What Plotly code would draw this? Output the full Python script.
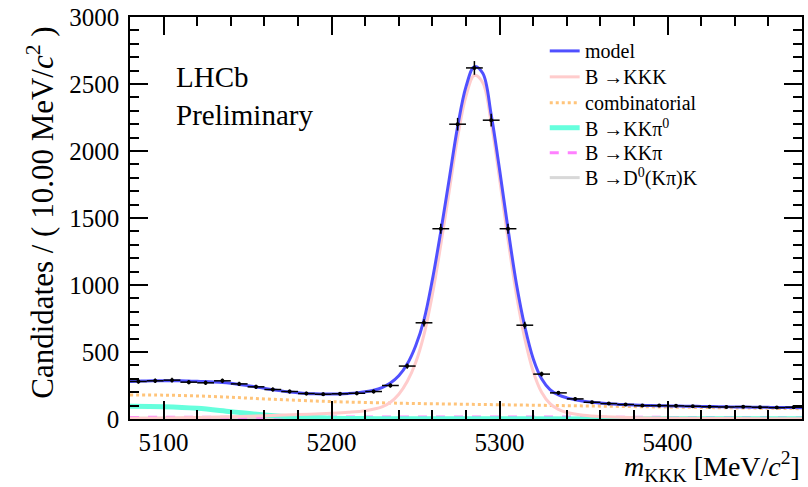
import plotly.graph_objects as go

# ---------------- data ----------------
bin_centres = [5085 + 10 * i for i in range(40)]
data_counts = [280, 285, 290, 275, 270, 285, 262, 240, 220, 205,
               190, 185, 188, 192, 205, 250, 395, 718, 1420, 2200,
               2620, 2230, 1420, 700, 335, 195, 150, 125, 115, 108,
               100, 100, 98, 95, 92, 90, 92, 88, 85, 88]
data_err = [c ** 0.5 for c in data_counts]

model_mass = list(range(5080, 5485, 5))
model_vals = [280, 282, 284, 285, 286, 286, 285, 283, 281, 279,
              276, 272, 266, 258, 249, 239, 229, 219, 210, 202,
              196, 191, 188, 186, 186, 187, 190, 195, 203, 215,
              235, 268, 322, 410, 545, 740, 1040, 1400, 1790, 2180,
              2480, 2630, 2580, 2270, 1860, 1420, 1010, 690, 450, 300,
              220, 180, 158, 144, 133, 125, 119, 114, 110, 107,
              104, 102, 100, 99, 98, 97, 96, 95, 94, 93,
              92, 91, 90, 89, 88, 88, 87, 86, 86, 85, 84]

sig_mass = [5080, 5100, 5120, 5140, 5160, 5180, 5200, 5210, 5220, 5230,
            5235, 5240, 5245, 5250, 5255, 5260, 5265, 5270, 5275, 5280,
            5285, 5290, 5295, 5300, 5305, 5310, 5315, 5320, 5325, 5330,
            5335, 5340, 5350, 5360, 5380, 5400, 5440, 5480]
sig_vals = [6, 8, 12, 17, 24, 33, 43, 50, 62, 90,
            125, 185, 280, 420, 630, 930, 1300, 1700, 2100, 2410,
            2565, 2510, 2210, 1790, 1340, 930, 600, 355, 200, 115,
            72, 48, 28, 18, 10, 6, 3, 2]

comb_mass = [5080, 5100, 5120, 5140, 5160, 5180, 5200, 5240, 5280, 5320,
             5360, 5400, 5440, 5480]
comb_vals = [180, 178, 172, 162, 150, 139, 130, 118, 110, 103,
             96, 89, 83, 77]

kkpi0_mass = [5080, 5100, 5120, 5140, 5160, 5180, 5200, 5220, 5240, 5300, 5400, 5480]
kkpi0_vals = [95, 92, 80, 55, 30, 14, 6, 3, 2, 1, 1, 1]

kkpi_mass = [5080, 5150, 5200, 5250, 5300, 5350, 5400, 5480]
kkpi_vals = [12, 13, 14, 15, 15, 14, 12, 10]

d0k_mass = [5080, 5200, 5300, 5400, 5480]
d0k_vals = [5, 5, 5, 4, 4]

x_ticks = [5100, 5200, 5300, 5400]
y_ticks = [0, 500, 1000, 1500, 2000, 2500, 3000]

legend_labels = ["model", "B \u2192KKK", "combinatorial", "B \u2192KK\u03c0<sup>0</sup>",
                 "B \u2192KK\u03c0", "B \u2192D<sup>0</sup>(K\u03c0)K"]

FONT = "Liberation Serif"

# styles
styles = {
    "model": dict(color="#5050ff", width=3, dash="solid"),
    "sig": dict(color="#ffcccc", width=3, dash="solid"),
    "comb": dict(color="#ffc47a", width=3, dash="dot"),
    "kkpi0": dict(color="#66ffdd", width=5, dash="solid"),
    "kkpi": dict(color="#ff80ff", width=3, dash="dash"),
    "d0k": dict(color="#d8d8d8", width=3, dash="solid"),
}

fig = go.Figure()

comp_style = dict(mode="lines", line_shape="spline", hoverinfo="skip", showlegend=False)
fig.add_trace(go.Scatter(x=d0k_mass, y=d0k_vals, line=styles["d0k"], **comp_style))
fig.add_trace(go.Scatter(x=kkpi_mass, y=kkpi_vals, line=styles["kkpi"], **comp_style))
fig.add_trace(go.Scatter(x=kkpi0_mass, y=kkpi0_vals, line=styles["kkpi0"], **comp_style))
fig.add_trace(go.Scatter(x=comb_mass, y=comb_vals, line=styles["comb"], **comp_style))
fig.add_trace(go.Scatter(x=sig_mass, y=sig_vals, line=styles["sig"], **comp_style))
fig.add_trace(go.Scatter(x=model_mass, y=model_vals, line=styles["model"], **comp_style))

fig.add_trace(go.Scatter(
    x=bin_centres, y=data_counts, mode="markers", showlegend=False,
    marker=dict(color="black", size=4),
    error_y=dict(type="data", array=data_err, color="black", thickness=1.5, width=0),
    error_x=dict(type="constant", value=5, color="black", thickness=1.5, width=0),
))

# manual legend (ROOT-style)
L, R, T, B = 130, 804, 16, 419
def px_x(p):
    return (p - L) / (R - L)
def px_y(p):
    return (B - p) / (B - T)

leg_y = [50, 76, 102, 127, 152, 177]
leg_keys = ["model", "sig", "comb", "kkpi0", "kkpi", "d0k"]
for lab, key, yy in zip(legend_labels, leg_keys, leg_y):
    st = styles[key]
    fig.add_shape(type="line", xref="paper", yref="paper",
                  x0=px_x(551), x1=px_x(581), y0=px_y(yy), y1=px_y(yy),
                  line=dict(color=st["color"], width=st["width"], dash=st["dash"]))
    fig.add_annotation(text=lab, xref="paper", yref="paper",
                       x=px_x(584), y=px_y(yy), xanchor="left", yanchor="middle",
                       showarrow=False, font=dict(family=FONT, size=20, color="black"))

axis_common = dict(
    showline=True, linecolor="black", linewidth=1.5, mirror="allticks",
    ticks="inside", tickcolor="black", tickwidth=1.5, ticklen=18,
    showgrid=False, zeroline=False,
    tickfont=dict(family=FONT, size=25, color="black"),
)

fig.update_xaxes(range=[5080, 5480], tickvals=x_ticks,
                 minor=dict(dtick=20, tick0=5080, ticklen=9, ticks="inside", tickcolor="black", tickwidth=1.5),
                 **axis_common)
fig.update_yaxes(range=[0, 3000], tickvals=y_ticks, ticklabelstandoff=4,
                 minor=dict(dtick=100, tick0=0, ticklen=9, ticks="inside", tickcolor="black", tickwidth=1.5),
                 **axis_common)

fig.add_annotation(text="Candidates / ( 10.00 MeV/<i>c</i><sup>2</sup> )",
                   xref="paper", yref="paper", x=px_x(40), y=px_y(212),
                   xanchor="center", yanchor="middle", textangle=-90, showarrow=False,
                   font=dict(family=FONT, size=31, color="black"))
fig.add_annotation(text="<i>m</i><sub>KKK</sub> [MeV/<i>c</i><sup>2</sup>]",
                   xref="paper", yref="paper", x=1.0, y=px_y(488),
                   xanchor="right", yanchor="bottom", showarrow=False,
                   font=dict(family=FONT, size=28, color="black"))
fig.add_annotation(text="LHCb<br>Preliminary",
                   xref="paper", yref="paper", x=px_x(174), y=px_y(58),
                   xanchor="left", yanchor="top", align="left", showarrow=False,
                   font=dict(family=FONT, size=29, color="black"))

fig.update_layout(
    width=808, height=487,
    margin=dict(l=L, r=808 - R, t=T, b=487 - B),
    paper_bgcolor="white", plot_bgcolor="white",
    font=dict(family=FONT, color="black"),
    showlegend=False,
)

fig.write_html("out.html")
